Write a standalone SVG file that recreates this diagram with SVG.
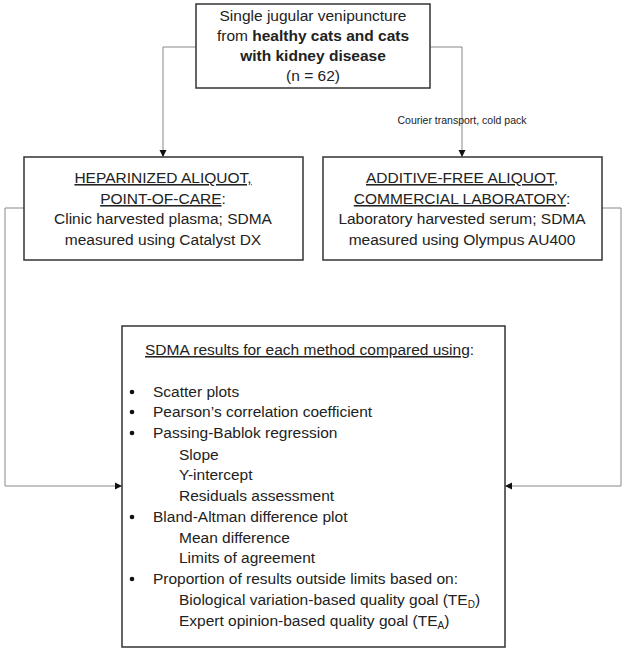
<svg xmlns="http://www.w3.org/2000/svg" width="626" height="652" viewBox="0 0 626 652">
<style>
text{font-family:"Liberation Sans",Arial,sans-serif;font-size:15.5px;fill:#222}
.c{text-anchor:middle}
.b{font-weight:bold}
.box{fill:#fff;stroke:#333;stroke-width:1.5}
.ln{fill:none;stroke:#888;stroke-width:1}
.sm{font-size:10.5px}
.u{text-decoration:underline}
</style>
<defs>
<marker id="ah" markerWidth="8" markerHeight="8" refX="7" refY="4" orient="auto" markerUnits="userSpaceOnUse">
<path d="M0,0.5 L7,4 L0,7.5 Z" fill="#111"/>
</marker>
</defs>
<g id="connectors">
<path class="ln" d="M196,47 H163 V157" marker-end="url(#ah)"/>
<path class="ln" d="M430,47 H462 V157" marker-end="url(#ah)"/>
<text class="c sm" x="462" y="124">Courier transport, cold pack</text>
<path class="ln" d="M24,208 H5 V486 H122" marker-end="url(#ah)"/>
<path class="ln" d="M602,208 H621 V486 H505" marker-end="url(#ah)"/>
</g>
<g id="top">
<rect class="box" x="196" y="4" width="234" height="84"/>
<text class="c" x="313" y="21">Single jugular venipuncture</text>
<text class="c" x="313" y="41">from <tspan class="b">healthy cats and cats</tspan></text>
<text class="c b" x="313" y="61">with kidney disease</text>
<text class="c" x="313" y="81">(n = 62)</text>
</g>
<g id="left">
<rect class="box" x="24" y="157" width="279" height="103"/>
<text class="c" x="163" y="183"><tspan class="u">HEPARINIZED ALIQUOT,</tspan></text>
<text class="c" x="163" y="204"><tspan class="u">POINT-OF-CARE</tspan>:</text>
<text class="c" x="163" y="224">Clinic harvested plasma; SDMA</text>
<text class="c" x="163" y="245">measured using Catalyst DX</text>
</g>
<g id="right">
<rect class="box" x="323" y="157" width="279" height="103"/>
<text class="c" x="462" y="183"><tspan class="u">ADDITIVE-FREE ALIQUOT,</tspan></text>
<text class="c" x="462" y="204"><tspan class="u">COMMERCIAL LABORATORY</tspan>:</text>
<text class="c" x="462" y="224">Laboratory harvested serum; SDMA</text>
<text class="c" x="462" y="245">measured using Olympus AU400</text>
</g>
<g id="bottom">
<rect class="box" x="122" y="326" width="383" height="321"/>
<text x="145" y="355"><tspan class="u">SDMA results for each method compared using</tspan>:</text>
<g fill="#111">
<circle cx="132" cy="392" r="2.3"/>
<circle cx="132" cy="412" r="2.3"/>
<circle cx="132" cy="433" r="2.3"/>
<circle cx="132" cy="517" r="2.3"/>
<circle cx="132" cy="579" r="2.3"/>
</g>
<text x="153" y="397">Scatter plots</text>
<text x="153" y="417">Pearson’s correlation coefficient</text>
<text x="153" y="438">Passing-Bablok regression</text>
<text x="179" y="460">Slope</text>
<text x="179" y="480">Y-intercept</text>
<text x="179" y="501">Residuals assessment</text>
<text x="153" y="522">Bland-Altman difference plot</text>
<text x="179" y="543">Mean difference</text>
<text x="179" y="563">Limits of agreement</text>
<text x="153" y="584">Proportion of results outside limits based on:</text>
<text x="179" y="605">Biological variation-based quality goal (TE<tspan font-size="10" dy="3">D</tspan><tspan dy="-3">)</tspan></text>
<text x="179" y="626">Expert opinion-based quality goal (TE<tspan font-size="10" dy="3">A</tspan><tspan dy="-3">)</tspan></text>
</g>
</svg>
